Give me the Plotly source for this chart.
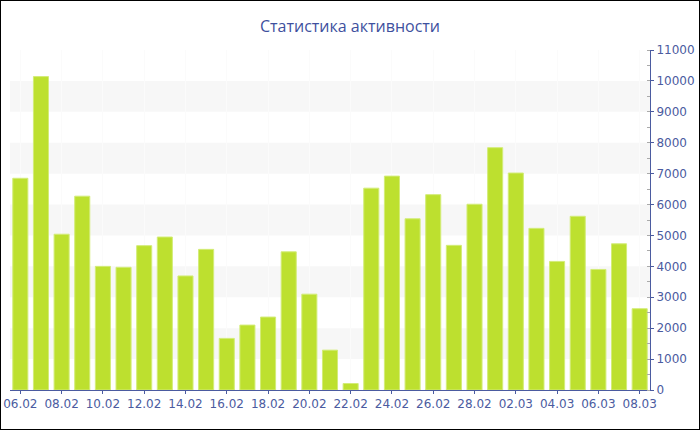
import plotly.graph_objects as go

dates = ["06.02", "07.02", "08.02", "09.02", "10.02", "11.02", "12.02", "13.02",
         "14.02", "15.02", "16.02", "17.02", "18.02", "19.02", "20.02", "21.02",
         "22.02", "23.02", "24.02", "25.02", "26.02", "27.02", "28.02", "01.03",
         "02.03", "03.03", "04.03", "05.03", "06.03", "07.03", "08.03"]
values = [6850, 10140, 5040, 6270, 4000, 3970, 4670, 4950,
          3690, 4550, 1670, 2100, 2360, 4470, 3100, 1290,
          210, 6530, 6920, 5540, 6320, 4680, 6010, 7840,
          7020, 5230, 4160, 5620, 3900, 4730, 2630]
tick_labels = dates[::2]
y_ticks = list(range(0, 11001, 1000))
y_tick_text = [str(v) for v in y_ticks]
band_ranges = [(1000, 2000), (3000, 4000), (5000, 6000), (7000, 8000), (9000, 10000)]

title_text = "Статистика активности"
axis_color = "#4B5BA0"
bar_color = "#BDE02F"

fig = go.Figure()
fig.add_trace(go.Bar(
    x=dates, y=values,
    marker=dict(color=bar_color, line=dict(color="#D3EC78", width=1)),
    hoverinfo="x+y",
))

shapes = []
for y0, y1 in band_ranges:
    shapes.append(dict(type="rect", xref="paper", yref="y", x0=0, x1=1, y0=y0, y1=y1,
                       fillcolor="#F7F7F7", line=dict(width=0), layer="below"))
# outer border of the picture
shapes.append(dict(type="rect", xref="paper", yref="paper",
                   x0=-10 / 640, x1=690 / 640, y0=-40 / 340, y1=390 / 340,
                   line=dict(color="black", width=2), fillcolor="rgba(0,0,0,0)", layer="above"))

fig.update_layout(
    width=700, height=430,
    margin=dict(l=10, r=50, t=50, b=40, autoexpand=False),
    paper_bgcolor="white", plot_bgcolor="white",
    showlegend=False,
    bargap=0.27,
    title=dict(text=title_text, x=0.5, xanchor="center", y=1 - 26 / 430, yanchor="middle",
               yref="container",
               font=dict(family="Open Sans, DejaVu Sans, sans-serif", size=16, color="#3E509E")),
    font=dict(family="DejaVu Sans, Verdana, sans-serif", size=12, color=axis_color),
    shapes=shapes,
    xaxis=dict(
        type="category", tickmode="array", tickvals=tick_labels, ticktext=tick_labels,
        range=[-0.5, len(dates) - 0.5], automargin=False,
        showline=True, linecolor=axis_color, linewidth=1,
        ticks="outside", ticklen=3, tickcolor=axis_color,
        showgrid=True, gridcolor="#FBFBFB", gridwidth=1,
        tickfont=dict(size=12, color=axis_color),
        zeroline=False,
    ),
    yaxis=dict(
        side="right", range=[0, 11000], tickmode="array", tickvals=y_ticks,
        ticktext=y_tick_text, automargin=False,
        showline=True, linecolor=axis_color, linewidth=1,
        ticks="outside", ticklen=3, tickcolor=axis_color,
        minor=dict(dtick=500, ticks="inside", ticklen=3, tickcolor="#AAAAAA", showgrid=False),
        showgrid=False, zeroline=False,
        tickfont=dict(size=12, color=axis_color),
    ),
)

fig.write_html("out.html",
               config={"displayModeBar": False},
               post_script="document.body.style.margin='0';document.body.style.overflow='hidden';")
